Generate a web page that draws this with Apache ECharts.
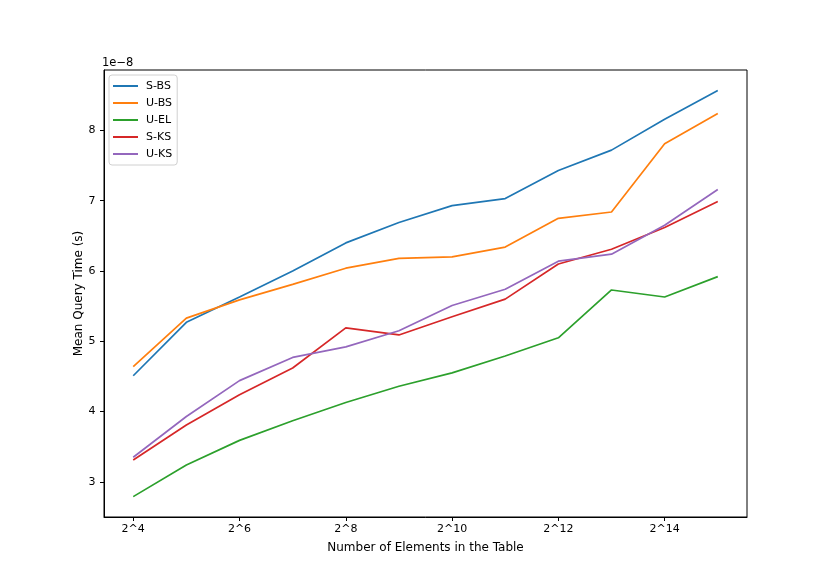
<!DOCTYPE html>
<html>
<head>
<meta charset="utf-8">
<script src="https://cdn.jsdelivr.net/npm/echarts@6/dist/echarts.min.js"></script>
<style>html,body{margin:0;padding:0;background:#fff}#c{width:830px;height:581px}</style>
</head>
<body>
<div id="c"></div>
<script>
// exponents of table size (2^n)
const exponents = [4, 5, 6, 7, 8, 9, 10, 11, 12, 13, 14, 15];
const xTickExponents = [4, 6, 8, 10, 12, 14];
const yTicks = [3, 4, 5, 6, 7, 8];
// mean query time in units of 1e-8 s
const sBS = [4.51, 5.27, 5.63, 6.00, 6.40, 6.69, 6.93, 7.03, 7.43, 7.72, 8.16, 8.57];
const uBS = [4.64, 5.33, 5.59, 5.81, 6.04, 6.18, 6.20, 6.34, 6.75, 6.84, 7.81, 8.24];
const uEL = [2.79, 3.24, 3.59, 3.87, 4.13, 4.36, 4.55, 4.79, 5.05, 5.73, 5.63, 5.92];
const sKS = [3.31, 3.81, 4.24, 4.62, 5.19, 5.09, 5.35, 5.60, 6.10, 6.31, 6.62, 6.99];
const uKS = [3.35, 3.93, 4.44, 4.77, 4.92, 5.15, 5.51, 5.74, 6.14, 6.24, 6.65, 7.16];
const seriesNames = ['S-BS', 'U-BS', 'U-EL', 'S-KS', 'U-KS'];
const seriesData = [sBS, uBS, uEL, sKS, uKS];
const colors = ['#1f77b4', '#ff7f0e', '#2ca02c', '#d62728', '#9467bd'];

const font = 'DejaVu Sans';
const chart = echarts.init(document.getElementById('c'), null, {renderer: 'canvas'});
chart.setOption({
  animation: false,
  backgroundColor: '#fff',
  color: colors,
  textStyle: {fontFamily: font},
  grid: {left: 104, right: 83, top: 70, bottom: 64, show: true, borderColor: '#000', borderWidth: 1, backgroundColor: 'transparent'},
  legend: {
    orient: 'vertical', left: 109, top: 75,
    data: seriesNames.map(n => ({name: n, icon: 'rect'})),
    itemWidth: 25, itemHeight: 2, itemGap: 3,
    textStyle: {fontFamily: font, fontSize: 11, color: '#000', lineHeight: 14, padding: [0, 0, 0, 3]},
    backgroundColor: '#fff', borderColor: '#d0d0d0', borderWidth: 1, borderRadius: 3,
    padding: [4, 5, 4, 4]
  },
  xAxis: {
    type: 'value', min: 3.45, max: 15.55,
    name: 'Number of Elements in the Table', nameLocation: 'middle', nameGap: 25, nameMoveOverlap: false,
    nameTextStyle: {fontFamily: font, fontSize: 12, color: '#000'},
    splitLine: {show: false},
    axisLine: {show: true, onZero: false, lineStyle: {color: '#000', width: 1}},
    axisTick: {show: true, length: 4, lineStyle: {color: '#000'}, customValues: xTickExponents},
    axisLabel: {customValues: xTickExponents, formatter: v => '2^' + v, color: '#000', fontFamily: font, fontSize: 11, margin: 7}
  },
  yAxis: {
    type: 'value', min: 2.5, max: 8.86,
    name: 'Mean Query Time (s)', nameLocation: 'middle', nameGap: 19, nameMoveOverlap: false,
    nameTextStyle: {fontFamily: font, fontSize: 12, color: '#000'},
    splitLine: {show: false},
    axisLine: {show: true, onZero: false, lineStyle: {color: '#000', width: 1}},
    axisTick: {show: true, length: 4, lineStyle: {color: '#000'}, customValues: yTicks},
    axisLabel: {customValues: yTicks, color: '#000', fontFamily: font, fontSize: 11, margin: 8.5}
  },
  graphic: [{type: 'text', left: 102, top: 57, style: {text: '1e\u22128', fontFamily: font, fontSize: 11.5, fill: '#000'}}],
  series: seriesNames.map((n, i) => ({
    name: n, type: 'line', symbol: 'none',
    data: exponents.map((e, j) => [e, seriesData[i][j]]),
    lineStyle: {width: 1.7, color: colors[i]},
    itemStyle: {color: colors[i]}
  }))
});
</script>
</body>
</html>
